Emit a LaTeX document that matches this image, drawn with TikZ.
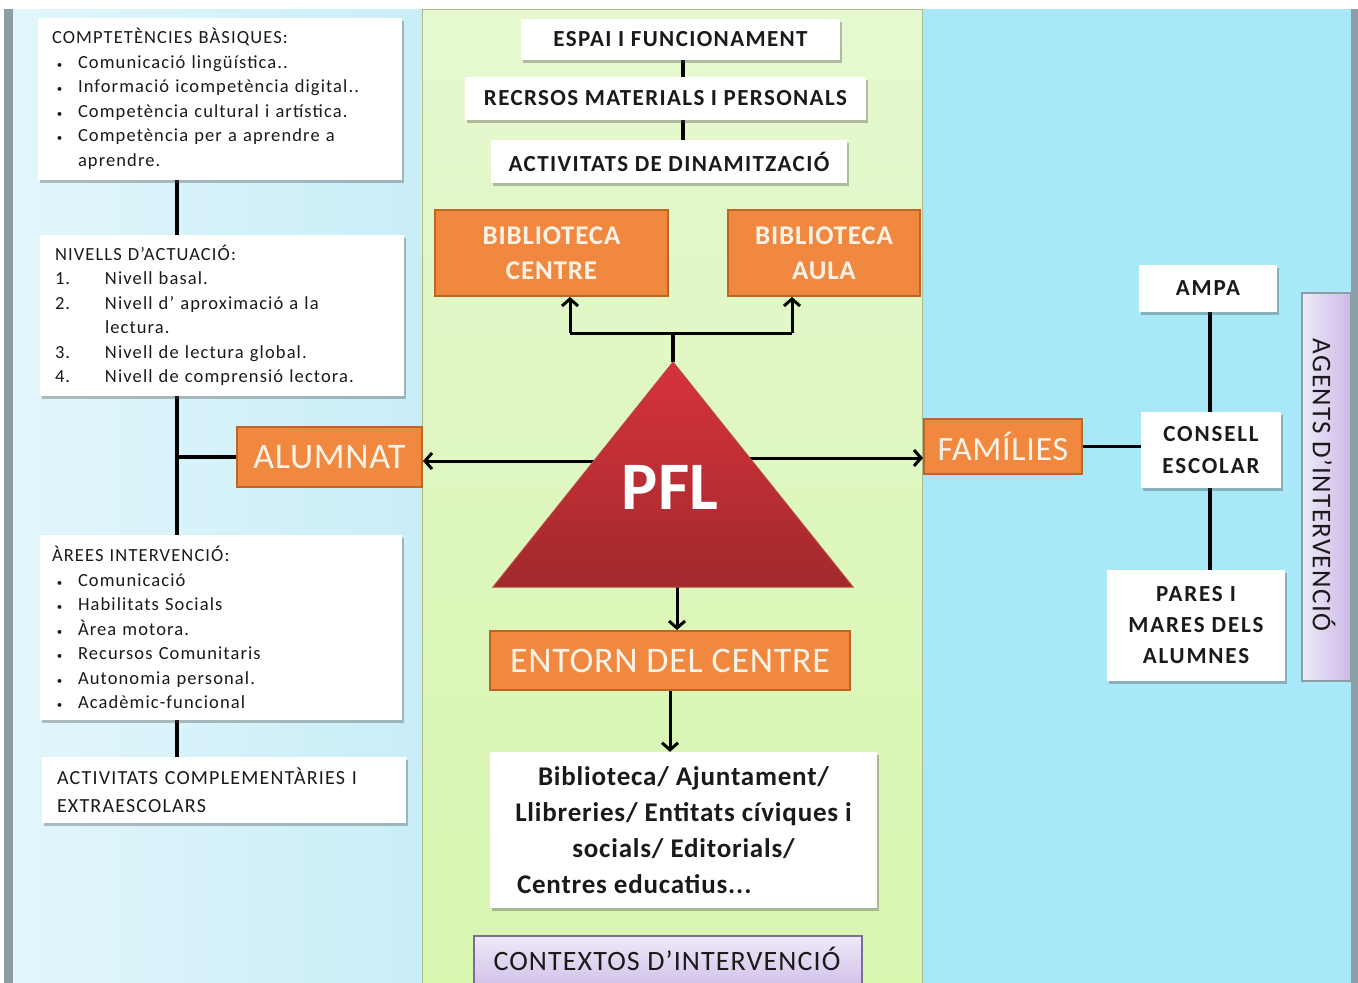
\documentclass[tikz,border=0pt]{standalone}
\usepackage{fontspec}
\setmainfont{Carlito}
\usetikzlibrary{arrows.meta,shadows,calc}
\pgfdeclarelayer{panel}
\pgfdeclarelayer{links}
\pgfsetlayers{panel,links,main}
\definecolor{orng}{HTML}{F0883F}
\definecolor{orngd}{HTML}{BE6526}
\definecolor{orngt}{HTML}{FFF3E8}
\definecolor{leftA}{HTML}{E2F6FB}
\definecolor{leftB}{HTML}{C9EEF8}
\definecolor{midA}{HTML}{E6F8D0}
\definecolor{midB}{HTML}{D7F6AE}
\definecolor{rightA}{HTML}{A8E8F9}
\definecolor{edgeg}{HTML}{8A9EA4}
\definecolor{midline}{HTML}{A9BC8E}
\definecolor{tritop}{HTML}{D6333B}
\definecolor{tribot}{HTML}{A2292C}
\definecolor{trid}{HTML}{B9473F}
\definecolor{lavA}{HTML}{EFE9F8}
\definecolor{lavB}{HTML}{CBBAE6}
\definecolor{lavd}{HTML}{7E6A9C}
\definecolor{ink}{HTML}{1A1A1A}
\tikzset{
  wbox/.style={fill=white, inner sep=0pt, text=ink,
    drop shadow={shadow xshift=2pt, shadow yshift=-3pt, opacity=0.35, fill=black!70}},
  obox/.style={fill=orng, draw=orngd, line width=2pt, text=orngt, inner sep=0pt, align=center},
  conn/.style={line width=3.5pt, draw=black},
  arr/.style={line width=3pt, draw=black, -{Straight Barb[length=7pt,width=16pt]}},
  leftfont/.style={font=\fontsize{18.5}{24.5}\selectfont\addfontfeature{LetterSpace=6}},
  capsb/.style={font=\bfseries\fontsize{23}{26}\selectfont\addfontfeature{LetterSpace=6}},
}
\newcommand\bulx{\hspace*{5pt}\makebox[21pt][l]{\fontsize{11}{11}\selectfont\textbullet}}
\begin{document}
\begin{tikzpicture}[x=1pt,y=-1pt]
\useasboundingbox (0,0) rectangle (1358,983);
\clip (0,0) rectangle (1358,983);

% ---------- left column ----------
\node[wbox, leftfont, minimum width=364pt, minimum height=162pt, text width=336pt, align=left] (CB) at (220,99)
 {COMPTETÈNCIES BÀSIQUES:\\
  \bulx Comunicació lingüística..\\
  \bulx Informació icompetència digital..\\
  \bulx Competència cultural i artística.\\
  \bulx Competència per a aprendre a\\
  \hspace*{26pt}aprendre.};
\node[wbox, leftfont, minimum width=364pt, minimum height=161pt, text width=334pt, align=left] (NA) at (222,315.5)
 {NIVELLS D’ACTUACIÓ:\\
  \makebox[50pt][l]{1.}Nivell basal.\\
  \makebox[50pt][l]{2.}Nivell d’ aproximació a la\\
  \hspace*{50pt}lectura.\\
  \makebox[50pt][l]{3.}Nivell de lectura global.\\
  \makebox[50pt][l]{4.}Nivell de comprensió lectora.};
\node[wbox, leftfont, minimum width=362pt, minimum height=185pt, text width=338pt, align=left] (AI) at (221,627.5)
 {ÀREES INTERVENCIÓ:\\
  \bulx Comunicació\\
  \bulx Habilitats Socials\\
  \bulx Àrea motora.\\
  \bulx Recursos Comunitaris\\
  \bulx Autonomia personal.\\
  \bulx Acadèmic-funcional};
\node[wbox, font=\fontsize{20}{28}\selectfont\addfontfeature{LetterSpace=6}, minimum width=364pt, minimum height=66pt, text width=334pt, align=left] (ACE) at (224,790)
 {ACTIVITATS COMPLEMENTÀRIES I\\EXTRAESCOLARS};
\node[obox, font=\fontsize{36}{40}\selectfont\addfontfeature{LetterSpace=2}, minimum width=185pt, minimum height=60pt] (AL) at (329.5,457) {ALUMNAT};

% ---------- middle column ----------
\node[wbox, capsb, minimum width=319pt, minimum height=41pt] (ESP) at (680.5,39.5) {ESPAI I FUNCIONAMENT};
\node[wbox, capsb, minimum width=401pt, minimum height=43pt] (REC) at (665.5,98.5) {RECRSOS MATERIALS I PERSONALS};
\node[wbox, capsb, minimum width=356pt, minimum height=43pt] (ACT) at (669,161.5) {ACTIVITATS DE DINAMITZACIÓ};
\node[obox, font=\bfseries\fontsize{27}{35}\selectfont\addfontfeature{LetterSpace=3}, minimum width=233pt, minimum height=86pt] (BC) at (551.5,253) {BIBLIOTECA\\CENTRE};
\node[obox, font=\bfseries\fontsize{27}{35}\selectfont\addfontfeature{LetterSpace=3}, minimum width=192pt, minimum height=86pt] (BA) at (824,253) {BIBLIOTECA\\AULA};

\coordinate (apex) at (673,362);
\coordinate (tbl) at (493,587);
\coordinate (tbr) at (853,587);
\shade[top color=tritop, bottom color=tribot, draw=trid, line width=1pt] (apex) -- (tbr) -- (tbl) -- cycle;
\node[text=white, font=\bfseries\fontsize{68}{68}\selectfont, inner sep=0pt] (PFL) at (670,487) {PFL};

\node[obox, font=\fontsize{36}{40}\selectfont\addfontfeature{LetterSpace=2}, minimum width=360pt, minimum height=59pt] (EN) at (670,660.5) {ENTORN DEL CENTRE};
\node[wbox, font=\bfseries\fontsize{27}{36}\selectfont\addfontfeature{LetterSpace=3}, minimum width=387pt, minimum height=156pt, align=center] (TX) at (683.5,830)
 {Biblioteca/ Ajuntament/\\Llibreries/ Entitats cíviques i\\socials/ Editorials/\\\makebox[333pt][l]{Centres educatius...}};
\node[top color=lavA, bottom color=lavB, draw=lavd, line width=1.5pt,
      minimum width=388pt, minimum height=60pt, inner sep=0pt] (CX) at (668,966) {};
\node[text=ink, font=\fontsize{28}{30}\selectfont\addfontfeature{LetterSpace=4}, inner sep=0pt, anchor=base] (CXt) at (667,970) {CONTEXTOS D’INTERVENCIÓ};

% ---------- right column ----------
\node[obox, font=\fontsize{34}{38}\selectfont\addfontfeature{LetterSpace=2}, minimum width=158pt, minimum height=55pt] (FAM) at (1003,446.5) {FAMÍLIES};
\node[wbox, font=\bfseries\fontsize{23}{32}\selectfont\addfontfeature{LetterSpace=8}, minimum width=138pt, minimum height=47pt] (AMPA) at (1208,288.5) {AMPA};
\node[wbox, font=\bfseries\fontsize{23}{32}\selectfont\addfontfeature{LetterSpace=8}, minimum width=140pt, minimum height=76pt, align=center] (CE) at (1211,450) {CONSELL\\ESCOLAR};
\node[wbox, font=\bfseries\fontsize{23}{31}\selectfont\addfontfeature{LetterSpace=8}, minimum width=178pt, minimum height=111pt, align=center] (PM) at (1196,625.5) {PARES I\\MARES DELS\\ALUMNES};
\node[left color=lavA, right color=lavB, draw=edgeg, line width=1.5pt, minimum width=49pt, minimum height=388pt, inner sep=0pt] (AG) at (1326.5,487) {};
\node[rotate=-90, text=ink, font=\fontsize{27}{28}\selectfont\addfontfeature{LetterSpace=5}, inner sep=0pt] (AGt) at (1324,485) {AGENTS D’INTERVENCIÓ};

% ---------- connectors ----------
\begin{pgfonlayer}{links}
\coordinate (lx) at (177,0);
\draw[conn] (CB.south -| lx) -- (ACE.north -| lx);
\draw[conn] (AL.west) -- (AL.west -| lx);
\coordinate (mx) at (683,0);
\draw[conn] (ESP.south -| mx) -- (REC.north -| mx);
\draw[conn] (REC.south -| mx) -- (ACT.north -| mx);
\coordinate (jl) at (570,333);
\coordinate (jr) at (792,333);
\draw[conn] (apex) -- (apex |- jl);
\draw[line width=3pt] (jl) -- (jr);
\draw[arr] (jl) -- (jl |- BC.south);
\draw[arr] (jr) -- (jr |- BA.south);
\coordinate (tl) at (594,461);
\coordinate (tr) at (750,458);
\draw[arr] (tl) -- (tl -| AL.east);
\draw[arr] (tr) -- (tr -| FAM.west);
\coordinate (bm) at (677,587);
\draw[arr] (bm) -- (bm |- EN.north);
\coordinate (em) at (670,690);
\draw[arr] (em) -- (em |- TX.north);
\draw[conn] (FAM.east) -- (FAM.east -| CE.west);
\coordinate (rx) at (1210,0);
\draw[conn] (AMPA.south -| rx) -- (CE.north -| rx);
\draw[conn] (CE.south -| rx) -- (PM.north -| rx);
\end{pgfonlayer}

% ---------- panels ----------
\begin{pgfonlayer}{panel}
\fill[white] (0,0) rectangle (1358,983);
\fill[edgeg] (4,9) rectangle (13,983);
\shade[left color=leftA, right color=leftB] (13,9) rectangle (422,983);
\shade[top color=midA, bottom color=midB, draw=midline, line width=1pt] (422,9) rectangle (922,990);
\fill[rightA] (923,9) rectangle (1351,983);
\fill[edgeg] (1351,9) rectangle (1358,983);
\end{pgfonlayer}
\end{tikzpicture}
\end{document}
